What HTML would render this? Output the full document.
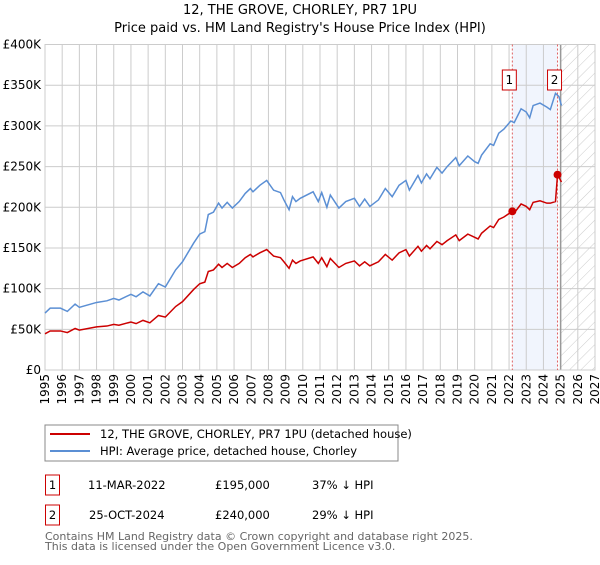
<!DOCTYPE html>
<html><head><meta charset="utf-8"><style>
body{margin:0;background:#fff;font-family:"Liberation Sans","DejaVu Sans",sans-serif;}
svg text{font-family:"DejaVu Sans","Liberation Sans",sans-serif;}
</style></head><body>
<svg id="c" width="600" height="560" viewBox="0 0 600 560" xmlns="http://www.w3.org/2000/svg">
<defs><pattern id="hatch" width="8" height="8" patternUnits="userSpaceOnUse" patternTransform="rotate(45)"><line x1="0" y1="0" x2="0" y2="8" stroke="#ccc" stroke-width="1"/></pattern></defs>
<text x="300" y="14" text-anchor="middle" font-size="13" fill="#000">12, THE GROVE, CHORLEY, PR7 1PU</text>
<text x="300" y="32" text-anchor="middle" font-size="13" fill="#000">Price paid vs. HM Land Registry's House Price Index (HPI)</text>
<g id="plot"></g>
<rect x="45" y="425" width="353" height="36" fill="#fff" stroke="#888"/>
<line x1="50" y1="434" x2="90" y2="434" stroke="#cc0000" stroke-width="2"/>
<text x="100" y="438" font-size="11.5">12, THE GROVE, CHORLEY, PR7 1PU (detached house)</text>
<line x1="50" y1="451" x2="90" y2="451" stroke="#5b8fd4" stroke-width="2"/>
<text x="100" y="455" font-size="11.5">HPI: Average price, detached house, Chorley</text>
<g font-size="11.5">
<rect x="45.5" y="475" width="14" height="20" fill="none" stroke="#cc0000"/>
<text x="52.5" y="489" text-anchor="middle">1</text>
<text x="88" y="489">11-MAR-2022</text>
<text x="215" y="489">£195,000</text>
<text x="312" y="489">37% ↓ HPI</text>
<rect x="45.5" y="505" width="14" height="20" fill="none" stroke="#cc0000"/>
<text x="52.5" y="519" text-anchor="middle">2</text>
<text x="89" y="519">25-OCT-2024</text>
<text x="215" y="519">£240,000</text>
<text x="312" y="519">29% ↓ HPI</text>
</g>
<text x="45" y="540" font-size="11" fill="#666">Contains HM Land Registry data © Crown copyright and database right 2025.</text>
<text x="45" y="550" font-size="11" fill="#666">This data is licensed under the Open Government Licence v3.0.</text>
</svg>
<script>
const hpiYears=[1995.0,1995.3,1995.9,1996.3,1996.75,1997.0,1998.0,1998.6,1999.0,1999.3,2000.0,2000.3,2000.7,2001.1,2001.6,2002.0,2002.6,2003.0,2003.65,2004.0,2004.3,2004.5,2004.8,2005.1,2005.3,2005.6,2005.9,2006.3,2006.65,2006.95,2007.1,2007.5,2007.9,2008.3,2008.7,2008.9,2009.2,2009.4,2009.6,2009.85,2010.6,2010.9,2011.1,2011.4,2011.6,2012.1,2012.5,2013.0,2013.3,2013.6,2013.9,2014.4,2014.8,2015.2,2015.6,2016.0,2016.2,2016.7,2016.9,2017.2,2017.4,2017.8,2018.1,2018.4,2018.9,2019.1,2019.6,2020.0,2020.2,2020.4,2020.9,2021.1,2021.4,2021.7,2022.1,2022.3,2022.7,2023.0,2023.2,2023.4,2023.8,2024.2,2024.4,2024.7,2024.9,2025.05];
const hpiValues=[70,76,76,72,81,77,83,85,88,86,93,90,96,91,106,102,123,133,156,167,170,191,194,205,199,206,199,207,217,223,219,227,233,221,218,209,197,213,207,211,219,207,218,200,215,199,207,211,201,210,201,209,223,213,227,233,221,239,230,241,235,249,242,250,261,251,263,256,254,264,278,276,291,296,306,304,321,317,310,325,328,323,320,340,336,325];
const priceYears=[1995.0,1995.3,1995.9,1996.3,1996.75,1997.0,1998.0,1998.6,1999.0,1999.3,2000.0,2000.3,2000.7,2001.1,2001.6,2002.0,2002.6,2003.0,2003.65,2004.0,2004.3,2004.5,2004.8,2005.1,2005.3,2005.6,2005.9,2006.3,2006.65,2006.95,2007.1,2007.5,2007.9,2008.3,2008.7,2008.9,2009.2,2009.4,2009.6,2009.85,2010.6,2010.9,2011.1,2011.4,2011.6,2012.1,2012.5,2013.0,2013.3,2013.6,2013.9,2014.4,2014.8,2015.2,2015.6,2016.0,2016.2,2016.7,2016.9,2017.2,2017.4,2017.8,2018.1,2018.4,2018.9,2019.1,2019.6,2020.0,2020.2,2020.4,2020.9,2021.1,2021.4,2021.7,2022.19,2022.3,2022.7,2023.0,2023.2,2023.4,2023.8,2024.2,2024.4,2024.7,2024.82,2025.05];
const priceValues=[44.5,48,48,46,51,49,53,54,56,55,59,57,61,58,67,65,78,84,99,106,108,121,123,130,126,131,126,131,138,142,139,144,148,140,138,133,125,135,131,134,139,131,138,127,137,126,131,134,128,133,128,133,142,135,144,148,140,152,146,153,149,158,154,159,166,159,167,163,161,168,177,175,185,188,195,193,204,201,197,206,208,205,205,207,240,231];
const saleYears=[2022.19,2024.82];
const saleValues=[195,240];
const saleLabels=["1","2"];
const yTicks=[0,50,100,150,200,250,300,350,400];
const yTickLabels=["£0","£50K","£100K","£150K","£200K","£250K","£300K","£350K","£400K"];
const xTicks=[1995,1996,1997,1998,1999,2000,2001,2002,2003,2004,2005,2006,2007,2008,2009,2010,2011,2012,2013,2014,2015,2016,2017,2018,2019,2020,2021,2022,2023,2024,2025,2026,2027];
const L=45,R=595,T=44.5,B=370,X0=1995,X1=2027,YMAX=400,DATA_END=2025;
const sx=y=>L+(y-X0)/(X1-X0)*(R-L);
const sy=v=>B-v/YMAX*(B-T);
const NS="http://www.w3.org/2000/svg";
const g=document.getElementById('plot');
function mk(tag,attrs){const e=document.createElementNS(NS,tag);for(const k in attrs)e.setAttribute(k,attrs[k]);g.appendChild(e);return e;}
let e;
e=mk('rect',{x:sx(saleYears[0]),y:T,width:sx(saleYears[1])-sx(saleYears[0]),height:B-T,fill:'#eef3fc',opacity:0.8});


e=mk('rect',{x:sx(DATA_END),y:T,width:R-sx(DATA_END),height:B-T,fill:'url(#hatch)'});


yTicks.forEach((v,i)=>{
 const l=mk('line',{x1:L,x2:R,y1:sy(v),y2:sy(v),stroke:'#ccc','stroke-width':1});
 
 
 const t=mk('text',{x:L-4,y:sy(v)+4,'text-anchor':'end','font-size':12});
 t.textContent=yTickLabels[i];
 
 
});
xTicks.forEach(y=>{
 const l=mk('line',{x1:sx(y),x2:sx(y),y1:T,y2:B,stroke:'#ccc','stroke-width':1});
 
 
 const t=mk('text',{x:0,y:0,'text-anchor':'end','font-size':12,transform:`translate(${sx(y)+4},${B+4}) rotate(-90)`});
 t.textContent=y;
 
 
});
e=mk('line',{x1:sx(DATA_END),x2:sx(DATA_END),y1:T,y2:B,stroke:'#999','stroke-width':1.5});


e=mk('rect',{x:L,y:T,width:R-L,height:B-T,fill:'none',stroke:'#ccc'});


saleYears.forEach((y,i)=>{
 const l=mk('line',{x1:sx(y),x2:sx(y),y1:T,y2:B,stroke:'#e06060','stroke-width':1,'stroke-dasharray':'2,2'});
 
 
});
e=mk('polyline',{points:hpiYears.map((y,i)=>sx(y)+','+sy(hpiValues[i])).join(' '),fill:'none',stroke:'#5b8fd4','stroke-width':1.5});


e=mk('polyline',{points:priceYears.map((y,i)=>sx(y)+','+sy(priceValues[i])).join(' '),fill:'none',stroke:'#cc0000','stroke-width':1.5});


saleYears.forEach((y,i)=>{
 const c=mk('circle',{cx:sx(y),cy:sy(saleValues[i]),r:4,fill:'#cc0000'});
 
 
 const b=mk('rect',{x:sx(y)-10,y:70,width:14,height:20,fill:'#fff',stroke:'#cc0000'});
 
 
 const t=mk('text',{x:sx(y)-3,y:84,'text-anchor':'middle','font-size':12});
 t.textContent=saleLabels[i];
 
 
});
</script>
</body></html>
